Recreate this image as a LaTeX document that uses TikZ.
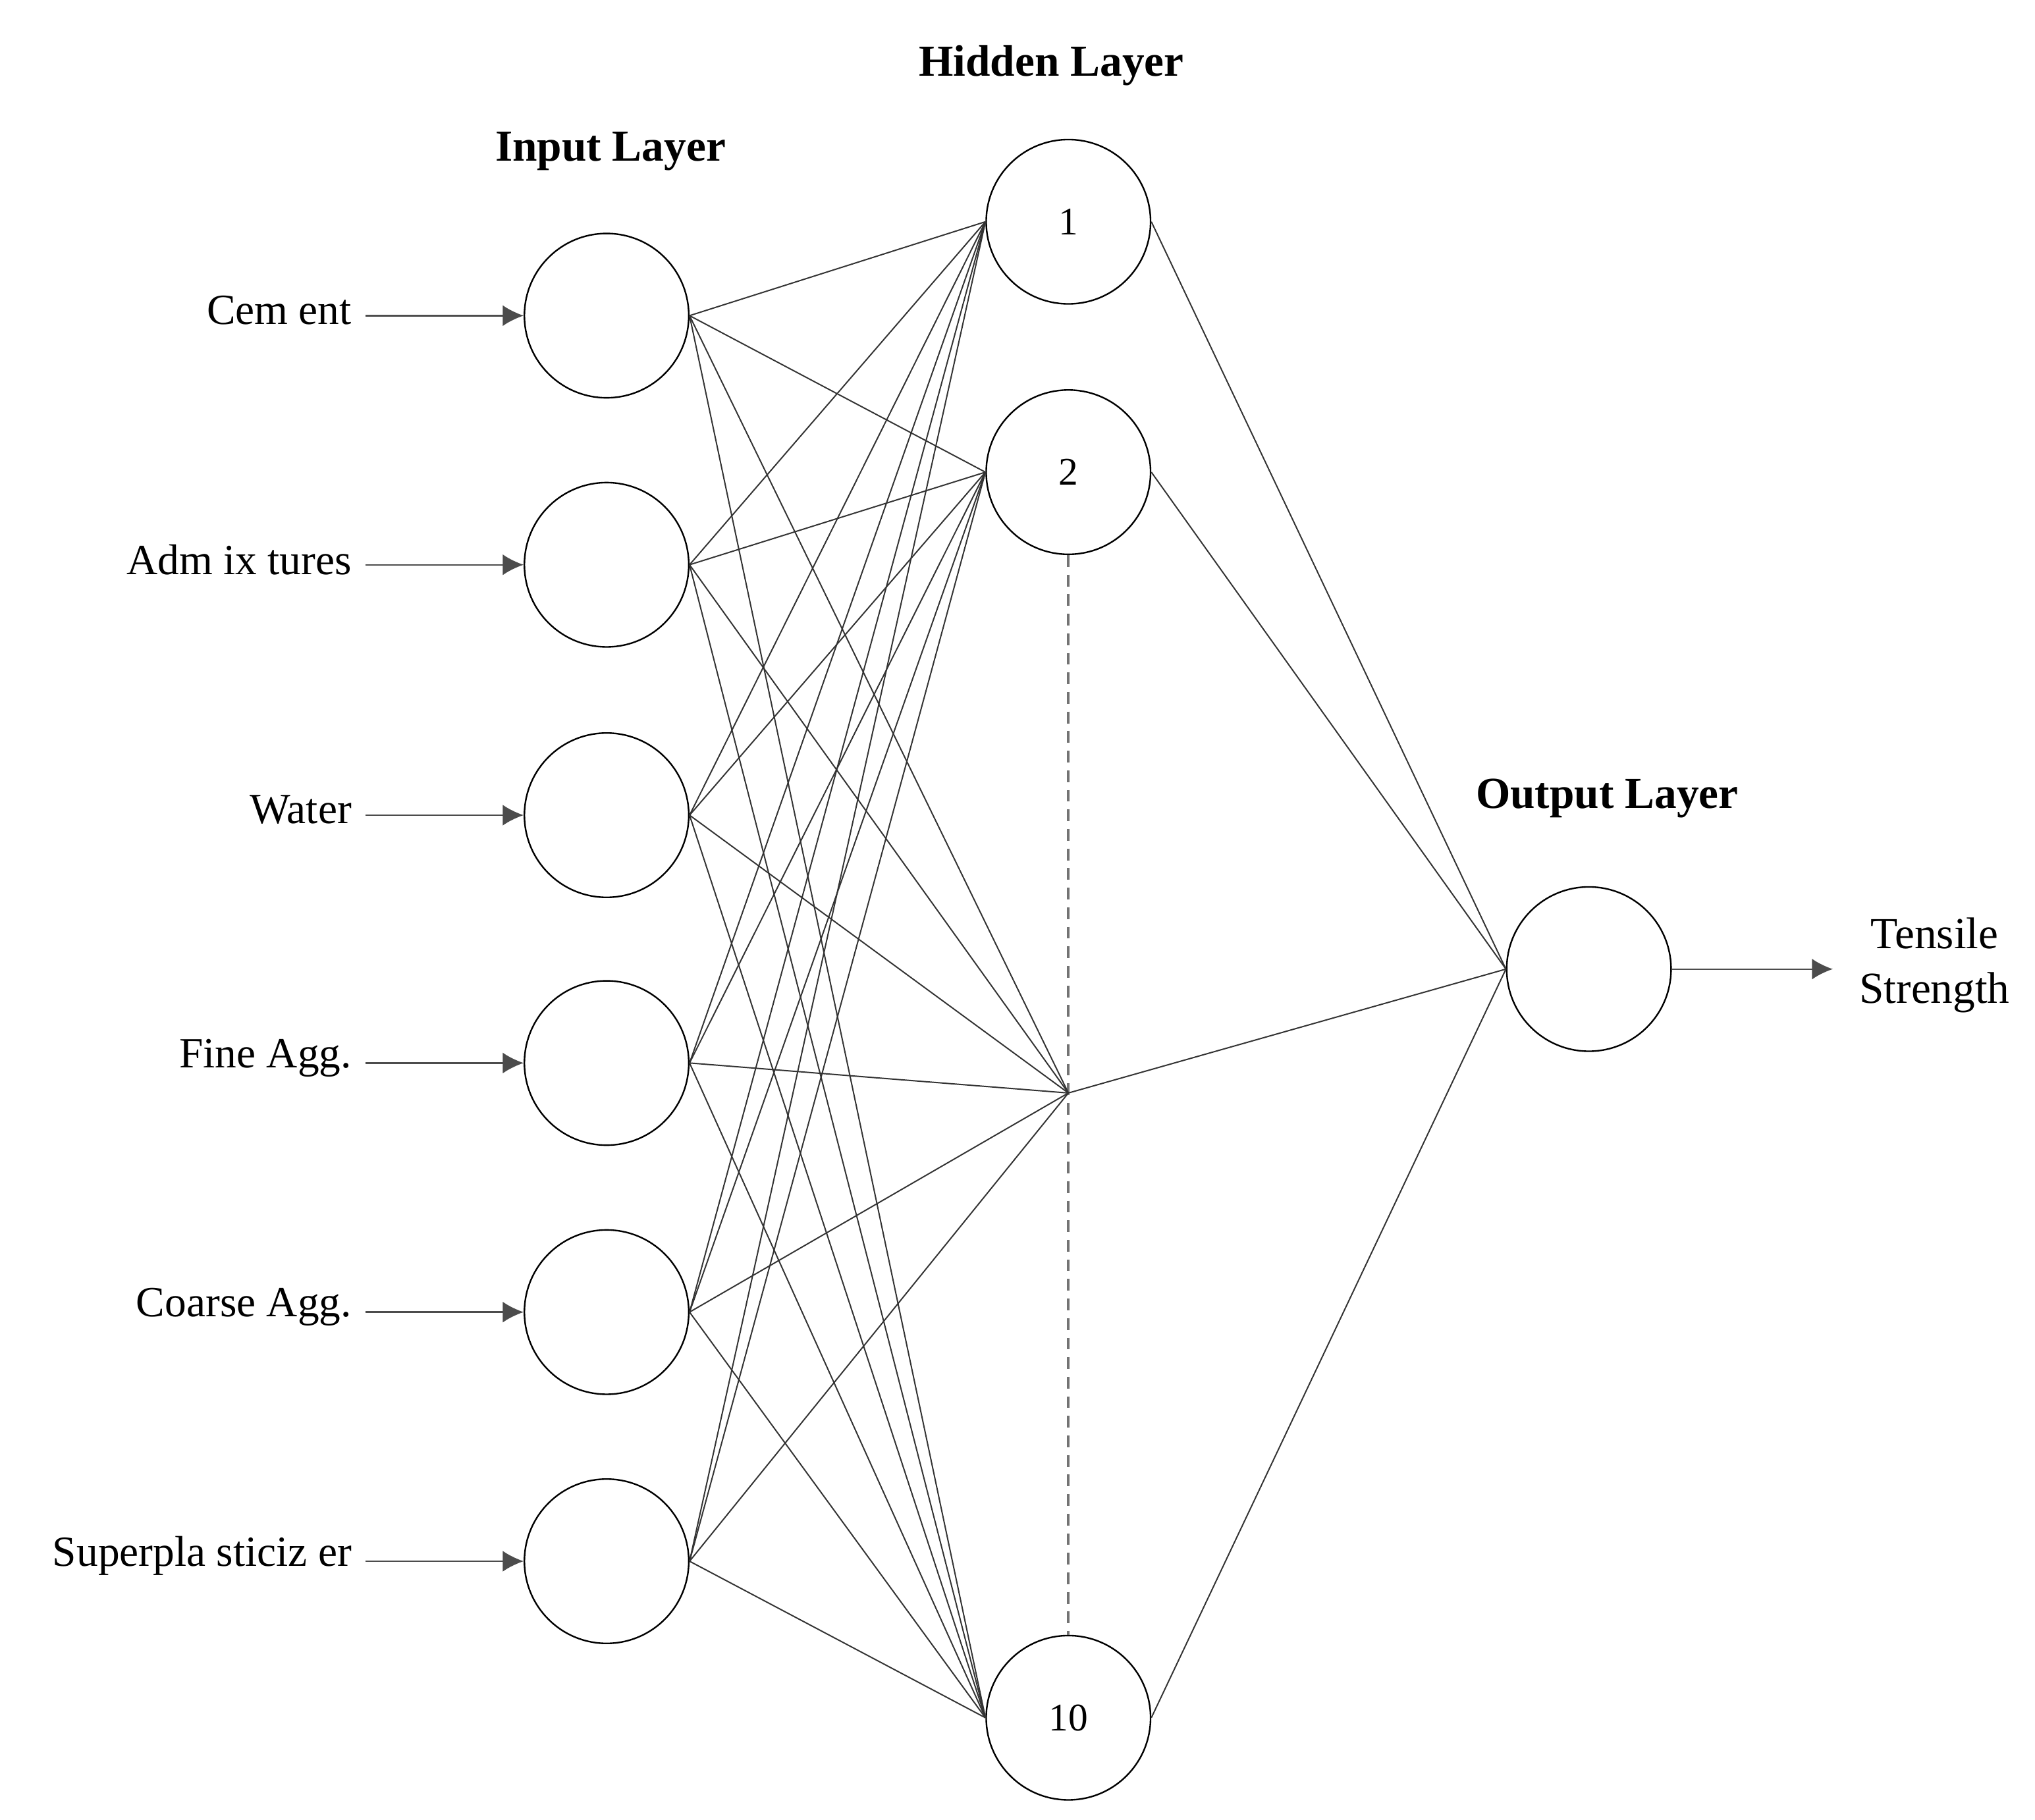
\documentclass[tikz,border=0pt]{standalone}
\usepackage{fontspec}
\setmainfont{Liberation Serif}
\usetikzlibrary{arrows.meta}
\begin{document}
\begin{tikzpicture}[x=1pt,y=-1pt,
  neuron/.style={circle,draw,line width=1.2pt,minimum size=126pt,inner sep=0pt,font=\fontsize{30}{36}\selectfont},
  conn/.style={line width=1pt,draw=black!80},
  inarr/.style={line width=1.2pt,draw=black!70,-{Latex[length=16pt,width=16pt]}},
  lbl/.style={font=\fontsize{33}{38}\selectfont,anchor=east},
  ttl/.style={font=\bfseries\fontsize{34}{40}\selectfont}]
\useasboundingbox (0,0) rectangle (1560,1395);
\foreach \i/\y/\t in {1/242/Cem ent,2/433/Adm ix tures,3/625/Water,4/815/Fine Agg.,5/1006/Coarse Agg.,6/1197/Superpla sticiz er}{
  \node[neuron] (i\i) at (465,\y) {};
  \coordinate (s\i) at (280,\y);
  \node[lbl] (l\i) at (273,\y-4) {\t};
  \draw[inarr] (s\i) -- (i\i.west);
}
\node[neuron] (h1) at (819,170) {1};
\node[neuron] (h2) at (819,362) {2};
\node[neuron] (h10) at (819,1317) {10};
\coordinate (hm) at (819,838);
\node[neuron] (o) at (1218,743) {};
\draw[dash pattern=on 9pt off 6pt,line width=2pt,draw=black!55] (h2.south) -- (h10.north);
\foreach \i in {1,...,6}{
  \foreach \h in {h1,h2,h10}{ \draw[conn] (i\i.east) -- (\h.west); }
  \draw[conn] (i\i.east) -- (hm);
}
\draw[conn] (h1.east) -- (o.west);
\draw[conn] (h2.east) -- (o.west);
\draw[conn] (hm) -- (o.west);
\draw[conn] (h10.east) -- (o.west);
\coordinate (oe) at (1405,743);
\draw[inarr] (o.east) -- (oe);
\node[font=\fontsize{34}{42}\selectfont,align=center] (ot) at (1483,740) {Tensile\\Strength};
\node[ttl] (t1) at (468,116) {Input Layer};
\node[ttl] (t2) at (806,50) {Hidden Layer};
\node[ttl] (t3) at (1232,612) {Output Layer};
\end{tikzpicture}
\end{document}
